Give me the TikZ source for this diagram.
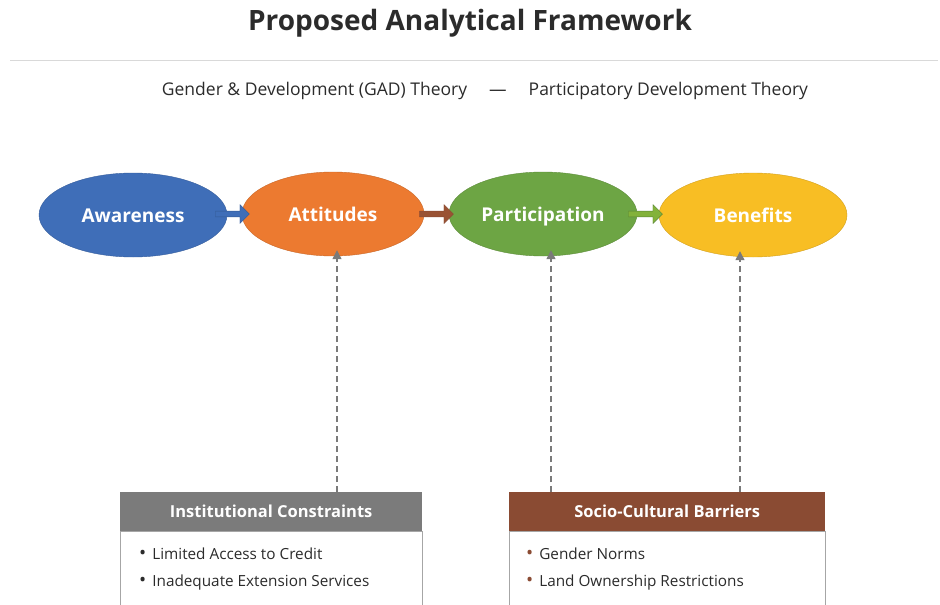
\documentclass[tikz,border=0pt]{standalone}
\usepackage{fontspec}
\setmainfont{Open Sans}
\usetikzlibrary{arrows.meta,shapes.geometric,shapes.arrows}
\definecolor{cblue}{HTML}{3F6EB8}
\definecolor{corange}{HTML}{EC7A30}
\definecolor{cgreen}{HTML}{6DA544}
\definecolor{cyellow}{HTML}{F8BE24}
\definecolor{cbrown}{HTML}{8A4B33}
\definecolor{cgrayhead}{HTML}{7B7B7B}
\definecolor{ctext}{HTML}{2B2B2B}
\definecolor{cdash}{HTML}{7A7A7A}
\newcommand{\bul}[1]{{\color{#1}\fontsize{19}{18}\selectfont\textbullet}}
\begin{document}
\begin{tikzpicture}[x=1pt,y=-1pt,
  oval/.style={ellipse, minimum width=188pt, minimum height=84pt, inner sep=0pt,
    text=white, font=\fontsize{19}{22}\selectfont\bfseries, text height=16pt, text depth=2pt},
  blockarrow/.style={single arrow, single arrow head extend=4.5pt, minimum height=34pt,
    minimum width=19pt, inner sep=1.8pt, draw},
  dasharrow/.style={draw=cdash, dash pattern=on 6pt off 4pt, line width=1.3pt, -{Triangle[length=9pt,width=9pt]}},
  headbox/.style={minimum height=39pt, inner sep=0pt, text=white,
    font=\fontsize{16.5}{19}\selectfont\bfseries},
  bodybox/.style={draw=gray!70, line width=0.6pt, fill=white},
  item/.style={anchor=west, text=ctext, font=\fontsize{15.3}{18}\selectfont, inner sep=0pt}
]
\useasboundingbox[fill=white] (0,0) rectangle (940,605);
% title
\node (title) at (470,23) {\fontsize{28}{32}\selectfont\bfseries\color{ctext}Proposed Analytical Framework};
\draw[gray!30, line width=1pt] (10,60) -- (938,60);
\node (sub) at (485,91) {\fontsize{17.5}{21}\selectfont\color{ctext}Gender \& Development (GAD) Theory \quad — \quad Participatory Development Theory};
% ovals
\node[oval, fill=cblue, draw=cblue!85!black] (aw) at (133,215) {Awareness};
\node[oval, fill=corange, draw=corange!85!black, minimum width=182pt] (at) at (333,214) {Attitudes};
\node[oval, fill=cgreen, draw=cgreen!85!black] (pa) at (543,214) {Participation};
\node[oval, fill=cyellow, draw=cyellow!85!black] (be) at (753,215) {Benefits};
% block arrows
\node[blockarrow, fill=cblue, draw=cblue!80!black] (a1) at (231,214) {};
\node[blockarrow, fill=cbrown!85!corange, draw=cbrown] (a2) at (435,214) {};
\node[blockarrow, fill=cgreen!85!yellow, draw=cgreen!80!black] (a3) at (644,214) {};
% boxes
\draw[bodybox] (120,531) rectangle (422,612);
\node[headbox, fill=cgrayhead, minimum width=302pt, anchor=north west] (h1) at (120,492) {Institutional Constraints};
\draw[bodybox] (509,531) rectangle (825,612);
\node[headbox, fill=cbrown, minimum width=316pt, anchor=north west] (h2) at (509,492) {Socio-Cultural Barriers};
% items
\node[item] (i1) at (139,554) {\bul{ctext}\hspace{6pt}Limited Access to Credit};
\node[item] (i2) at (139,583) {\bul{ctext}\hspace{6pt}Inadequate Extension Services};
\node[item] (j1) at (526,554) {\bul{cbrown}\hspace{6pt}Gender Norms};
\node[item] (j2) at (526,583) {\bul{cbrown}\hspace{6pt}Land Ownership Restrictions};
% dashed arrows
\coordinate (c1) at (337,492);
\coordinate (c2) at (551,492);
\coordinate (c3) at (740,492);
\draw[dasharrow] (c1) -- ([yshift=6pt]at.south -| c1);
\draw[dasharrow] (c2) -- ([yshift=6pt]pa.south -| c2);
\draw[dasharrow] (c3) -- ([yshift=6pt]be.south -| c3);
\end{tikzpicture}
\end{document}
